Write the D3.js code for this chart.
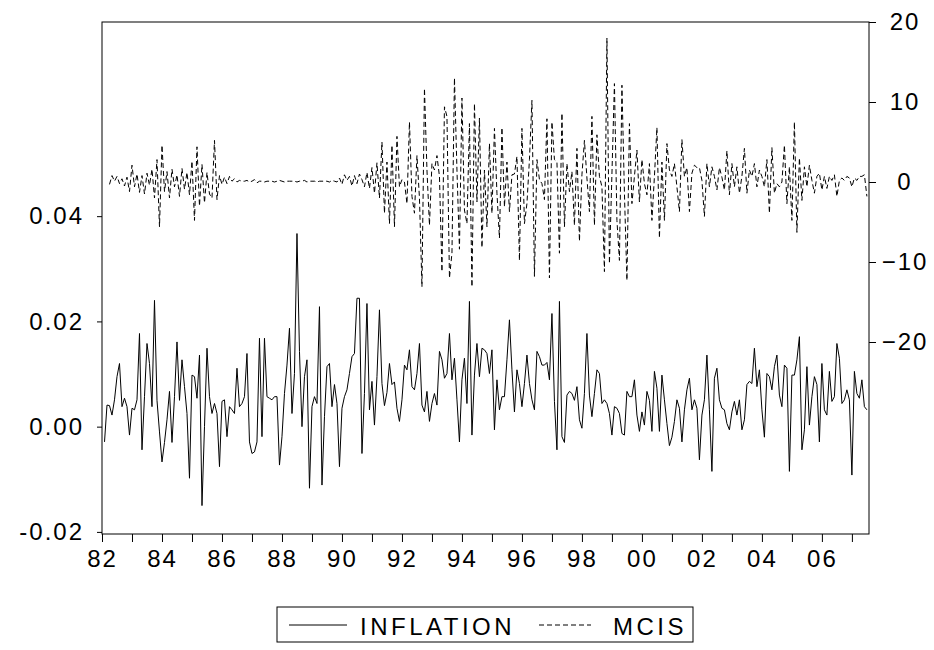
<!DOCTYPE html>
<html>
<head>
<meta charset="utf-8">
<script src="https://cdn.jsdelivr.net/npm/d3@7/dist/d3.min.js"></script>
<style>
  body { margin: 0; background: #fff; }
  svg text { font-family: "Liberation Sans", Arial, sans-serif; font-size: 24px; fill: #000; }
</style>
</head>
<body>
<div id="chart"></div>
<script>
// monthly series, first observation 1982M02
const startYear = 1982;
const startMonth = 2;

const inflation = [
  -0.0029, 0.0041, 0.0040, 0.0022, 0.0051, 0.0095, 0.0120, 0.0038, 0.0054, 0.0038, -0.0016,          // 1982
  0.0035, 0.0032, 0.0051, 0.0177, -0.0044, 0.0057, 0.0158, 0.0120, 0.0038, 0.0240, 0.0050, -0.0010,  // 1983
  -0.0067, -0.0030, 0.0013, 0.0067, -0.0030, 0.0057, 0.0161, 0.0050, 0.0127, 0.0076, 0.0025, -0.0098, // 1984
  0.0098, 0.0095, 0.0054, 0.0136, -0.0150, 0.0000, 0.0149, 0.0057, 0.0025, 0.0044, 0.0025, -0.0076,  // 1985
  0.0048, 0.0051, -0.0019, 0.0038, 0.0032, 0.0025, 0.0111, 0.0038, 0.0044, 0.0057, 0.0139, -0.0029,  // 1986
  -0.0051, -0.0048, -0.0029, 0.0168, -0.0019, 0.0168, 0.0057, 0.0054, 0.0051, 0.0057, 0.0057, -0.0073, // 1987
  -0.0019, 0.0063, 0.0117, 0.0187, 0.0025, 0.0101, 0.0367, 0.0143, 0.0000, 0.0095, 0.0127, -0.0117,  // 1988
  0.0038, 0.0057, 0.0044, 0.0228, -0.0111, 0.0019, 0.0114, 0.0120, 0.0038, 0.0080, 0.0044, -0.0076,  // 1989
  0.0035, 0.0057, 0.0070, 0.0101, 0.0133, 0.0139, 0.0244, 0.0244, -0.0051, 0.0063, 0.0234, 0.0032,   // 1990
  0.0086, 0.0003, 0.0095, 0.0222, 0.0082, 0.0040, 0.0065, 0.0120, 0.0080, 0.0085, 0.0035, 0.0010,    // 1991
  0.0051, 0.0117, 0.0108, 0.0146, 0.0076, 0.0070, 0.0101, 0.0158, 0.0041, 0.0028, 0.0067, 0.0010,    // 1992
  0.0044, 0.0063, 0.0041, 0.0143, 0.0127, 0.0092, 0.0101, 0.0177, 0.0089, 0.0130, 0.0051, -0.0029,   // 1993
  0.0089, 0.0130, 0.0044, 0.0238, -0.0016, 0.0098, 0.0158, 0.0095, 0.0149, 0.0146, 0.0139, 0.0101,   // 1994
  0.0146, -0.0006, 0.0089, 0.0032, 0.0057, 0.0057, 0.0127, 0.0203, 0.0108, 0.0028, 0.0108, 0.0082,   // 1995
  0.0038, 0.0082, 0.0136, 0.0082, 0.0051, 0.0032, 0.0143, 0.0133, 0.0117, 0.0117, 0.0122, 0.0089,    // 1996
  0.0215, 0.0048, -0.0044, 0.0238, -0.0019, -0.0030, 0.0060, 0.0067, 0.0063, 0.0050, 0.0076, 0.0013, // 1997
  -0.0003, 0.0063, 0.0177, 0.0060, 0.0019, 0.0063, 0.0108, 0.0101, 0.0044, 0.0051, 0.0044, 0.0025,   // 1998
  -0.0016, 0.0038, 0.0035, 0.0025, -0.0013, -0.0016, 0.0067, 0.0057, 0.0057, 0.0089, 0.0022, -0.0009, // 1999
  0.0028, 0.0003, 0.0067, 0.0050, -0.0009, 0.0105, 0.0073, -0.0009, 0.0098, 0.0051, 0.0006, -0.0036, // 2000
  -0.0020, 0.0010, 0.0051, 0.0035, -0.0029, 0.0032, 0.0070, 0.0092, 0.0032, 0.0051, 0.0035, -0.0063, // 2001
  0.0022, 0.0051, 0.0136, 0.0032, -0.0085, 0.0092, 0.0111, 0.0051, 0.0035, 0.0032, 0.0006, -0.0006,  // 2002
  0.0028, 0.0048, 0.0022, 0.0051, -0.0006, 0.0013, 0.0080, 0.0086, 0.0082, 0.0149, 0.0076, 0.0108,   // 2003
  0.0032, -0.0020, 0.0101, 0.0095, 0.0070, 0.0114, 0.0136, 0.0060, 0.0038, 0.0117, 0.0111, -0.0085,  // 2004
  0.0098, 0.0098, 0.0127, 0.0171, -0.0044, -0.0006, 0.0114, 0.0003, 0.0057, 0.0095, 0.0080, -0.0029, // 2005
  0.0120, 0.0032, 0.0022, 0.0105, 0.0048, 0.0057, 0.0158, 0.0130, 0.0044, 0.0051, 0.0070, 0.0051,    // 2006
  -0.0092, 0.0105, 0.0063, 0.0054, 0.0089, 0.0038, 0.0032                                            // 2007
];

const mcis = [
  null, null, -0.3, 0.8, 0.1, 0.7, -0.2, 0.4, -0.5, 0.6, -1.2,        // 1982
  2.1, -0.6, 1.0, -1.3, 0.8, -1.5, 1.1, -0.4, 1.6, -2.0, 2.8, -5.6,   // 1983
  4.6, -1.2, 1.3, -2.0, 1.6, -0.6, 0.9, -1.8, 1.7, -0.9, 1.2, -1.6,   // 1984
  2.6, -4.8, 4.4, -3.0, 2.2, -2.6, 1.2, -1.5, -2.0, 5.2, -2.2, 0.8,   // 1985
  -0.3, 0.6, -0.2, 0.7, 0.1, 0.4, 0.0, 0.2, 0.1, 0.1, 0.2, 0.0,       // 1986
  0.1, 0.3, -0.1, 0.1, 0.1, 0.0, 0.1, 0.1, 0.1, 0.0, 0.1, 0.2,        // 1987
  0.1, 0.0, 0.1, 0.1, 0.1, 0.1, 0.0, 0.1, 0.1, 0.2, 0.0, 0.1,         // 1988
  0.1, 0.1, 0.0, 0.1, 0.1, 0.1, 0.1, 0.0, 0.2, 0.1, 0.0, 0.5,         // 1989
  -0.3, 0.9, 0.2, 0.7, -0.5, 0.8, -0.2, 1.0, 0.3, -0.6, 1.2, -0.8,    // 1990
  1.8, -1.4, 2.4, -2.0, 5.0, -3.9, 2.5, -5.2, 4.6, -5.6, 5.7, -0.6,   // 1991
  0.3, 0.0, -2.7, 7.5, -1.8, -3.9, 3.3, -2.0, -13.1, 11.7, 1.5, -5.4, // 1992
  2.3, 1.5, 3.3, 0.7, -11.2, 9.4, 8.2, -12.0, -8.9, 13.0, 1.5, -8.4,  // 1993
  10.5, -3.5, -5.2, 7.3, -13.1, 9.8, -2.5, 8.0, -8.2, 1.5, -5.6, 4.8, // 1994
  -3.9, 6.7, -1.4, -7.0, 6.8, -3.1, 2.5, -3.7, 0.9, 1.0, 3.2, -9.8,   // 1995
  6.7, -5.2, -2.7, 2.8, 10.2, -11.8, 2.8, 0.3, -0.2, -2.2, 7.9, -12.0, // 1996
  7.5, 2.8, 2.5, -8.9, 8.6, -5.6, 2.3, -1.2, 1.3, -5.4, 4.2, -7.4,    // 1997
  0.9, 5.2, 0.5, -3.7, 8.2, -5.4, 5.9, 0.7, -0.6, -11.2, 18.0, -10.2, // 1998
  1.0, 12.3, -4.8, -9.8, 12.1, -1.4, -12.3, 7.3, -2.7, 0.7, 4.0, -2.5, // 1999
  2.8, -0.2, -1.6, 2.3, -4.8, 0.7, 6.8, -7.0, 2.5, -4.8, 4.8, 1.5,    // 2000
  0.7, 2.3, -0.6, -3.7, 5.3, 0.7, 1.8, -3.7, 1.1, 2.1, 1.8, 1.8,      // 2001
  0.2, -4.3, 2.3, -0.6, 1.9, 0.7, -1.0, 1.8, 0.6, -1.0, 3.9, -1.6,    // 2002
  2.3, -0.6, 1.9, -1.4, 0.7, 4.2, -1.4, 1.5, 0.7, 2.3, -0.6, 1.5,     // 2003
  0.7, -0.6, 2.8, -3.9, 4.3, -1.4, -0.2, -0.6, 0.0, 4.6, -2.7, 1.9,   // 2004
  -4.8, 7.5, -6.3, 3.0, -2.3, 1.9, -0.6, 2.1, 0.2, -1.4, 0.7, 1.1,    // 2005
  -1.0, 0.7, -0.8, 0.7, 0.2, 0.9, -1.8, 0.2, 0.5, 0.2, 0.7, 0.5,      // 2006
  -0.6, 0.5, 0.2, 0.7, 0.7, 0.9, -1.8                                 // 2007
];

const yearTicks = d3.range(1982, 2008);
const leftTicks = [-0.02, 0.00, 0.02, 0.04];
const rightTicks = [-20, -10, 0, 10, 20];
const seriesNames = ['INFLATION', 'MCIS'];

const width = 934, height = 650;
const margin = { top: 22, right: 65, bottom: 116, left: 102 };
const plotW = width - margin.left - margin.right;
const plotH = height - margin.top - margin.bottom;

const svg = d3.select('#chart')
    .append('svg')
    .attr('width', width)
    .attr('height', height);

const g = svg.append('g')
    .attr('transform', `translate(${margin.left},${margin.top})`);

const dateOf = i => startYear + (startMonth - 1 + i) / 12;

const x = d3.scaleLinear()
    .domain([1982, 2007.57])
    .range([0, plotW]);

const yLeft = d3.scaleLinear()
    .domain([-0.0204, 0.0769])
    .range([plotH, 0]);

const yRight = d3.scaleLinear()
    .domain([-44, 20])
    .range([plotH, 0]);

// axes
const xAxis = g.append('g')
    .attr('transform', `translate(0,${plotH})`)
    .call(d3.axisBottom(x)
        .tickValues(yearTicks)
        .tickSize(8)
        .tickPadding(8)
        .tickFormat(d => d % 2 === 0 ? String(d).slice(2) : ''));

const leftAxis = g.append('g')
    .call(d3.axisLeft(yLeft)
        .tickValues(leftTicks)
        .tickSize(5)
        .tickPadding(13)
        .tickFormat(d => d.toFixed(2)));

const rightAxis = g.append('g')
    .attr('transform', `translate(${plotW},0)`)
    .call(d3.axisRight(yRight)
        .tickValues(rightTicks)
        .tickSize(7));

rightAxis.selectAll('text')
    .attr('x', 36)
    .attr('text-anchor', 'middle');

[xAxis, leftAxis, rightAxis].forEach(a => {
    a.select('.domain').remove();
    a.selectAll('line').attr('stroke', '#000');
    a.selectAll('text')
        .attr('fill', '#000')
        .style('font-size', '24px')
        .style('letter-spacing', '2px');
});

// series
const infLine = d3.line()
    .x((d, i) => x(dateOf(i)))
    .y(d => yLeft(d));

const mcisLine = d3.line()
    .defined(d => d !== null)
    .x((d, i) => x(dateOf(i)))
    .y(d => yRight(d));

g.append('path')
    .datum(mcis)
    .attr('fill', 'none')
    .attr('stroke', '#000')
    .attr('stroke-width', 1)
    .attr('stroke-dasharray', '5,3')
    .attr('d', mcisLine);

g.append('path')
    .datum(inflation)
    .attr('fill', 'none')
    .attr('stroke', '#000')
    .attr('stroke-width', 1)
    .attr('d', infLine);

// frame
g.append('rect')
    .attr('x', 0)
    .attr('y', 0)
    .attr('width', plotW)
    .attr('height', plotH)
    .attr('fill', 'none')
    .attr('stroke', '#000')
    .attr('stroke-width', 1);

// legend
const legend = svg.append('g').attr('transform', 'translate(277,607)');

legend.append('rect')
    .attr('width', 416)
    .attr('height', 35)
    .attr('fill', '#fff')
    .attr('stroke', '#000');

const legendItems = [
    { name: seriesNames[0], x1: 12, x2: 70, tx: 83, dash: null },
    { name: seriesNames[1], x1: 262, x2: 314, tx: 336, dash: '5,3' }
];

legendItems.forEach(item => {
    legend.append('line')
        .attr('x1', item.x1)
        .attr('x2', item.x2)
        .attr('y1', 18)
        .attr('y2', 18)
        .attr('stroke', '#000')
        .attr('stroke-dasharray', item.dash);
    legend.append('text')
        .attr('x', item.tx)
        .attr('y', 28)
        .style('letter-spacing', '3.5px')
        .text(item.name);
});
</script>
</body>
</html>
